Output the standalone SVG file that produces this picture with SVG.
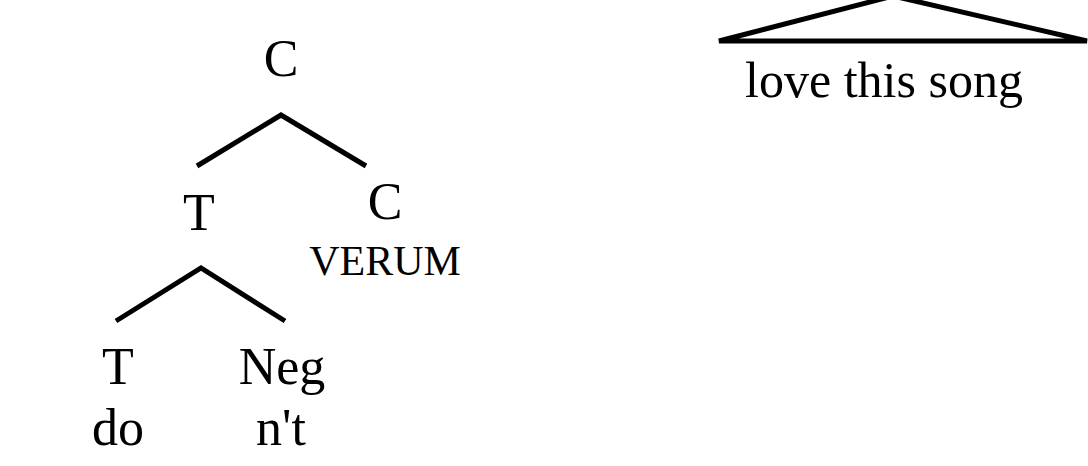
<svg xmlns="http://www.w3.org/2000/svg" width="1088" height="466" viewBox="0 0 1088 466">
  <style>
    .lbl { font-family: "Liberation Serif", "Times New Roman", serif; font-size: 52px; fill: #000; text-anchor: middle; }
    .sub { font-size: 42px; }
    .edge { stroke: #000; stroke-width: 5; fill: none; stroke-linecap: butt; }
  </style>
  <rect width="1088" height="466" fill="#fff"/>

  <!-- branches -->
  <g id="connectors">
    <polyline class="edge" points="197,166 281,115 366,166"/>
    <polyline class="edge" points="116,321 201,268 285,321"/>
    <polygon class="edge" points="719,41 893,-4 1087,41" stroke-linejoin="miter"/>
  </g>

  <g id="node-C-root">
    <text class="lbl" x="281" y="76">C</text>
  </g>
  <g id="node-T-mid">
    <text class="lbl" x="199" y="230">T</text>
  </g>
  <g id="node-C-verum">
    <text class="lbl" x="385" y="219">C</text>
    <text class="lbl sub" x="385" y="275">VERUM</text>
  </g>
  <g id="node-T-do">
    <text class="lbl" x="118" y="384">T</text>
    <text class="lbl" x="118" y="445">do</text>
  </g>
  <g id="node-Neg">
    <text class="lbl" x="282" y="384">Neg</text>
    <text class="lbl" x="281" y="445">n't</text>
  </g>
  <g id="node-VP">
    <text class="lbl" x="884" y="97" style="font-size:50px">love this song</text>
  </g>
</svg>
